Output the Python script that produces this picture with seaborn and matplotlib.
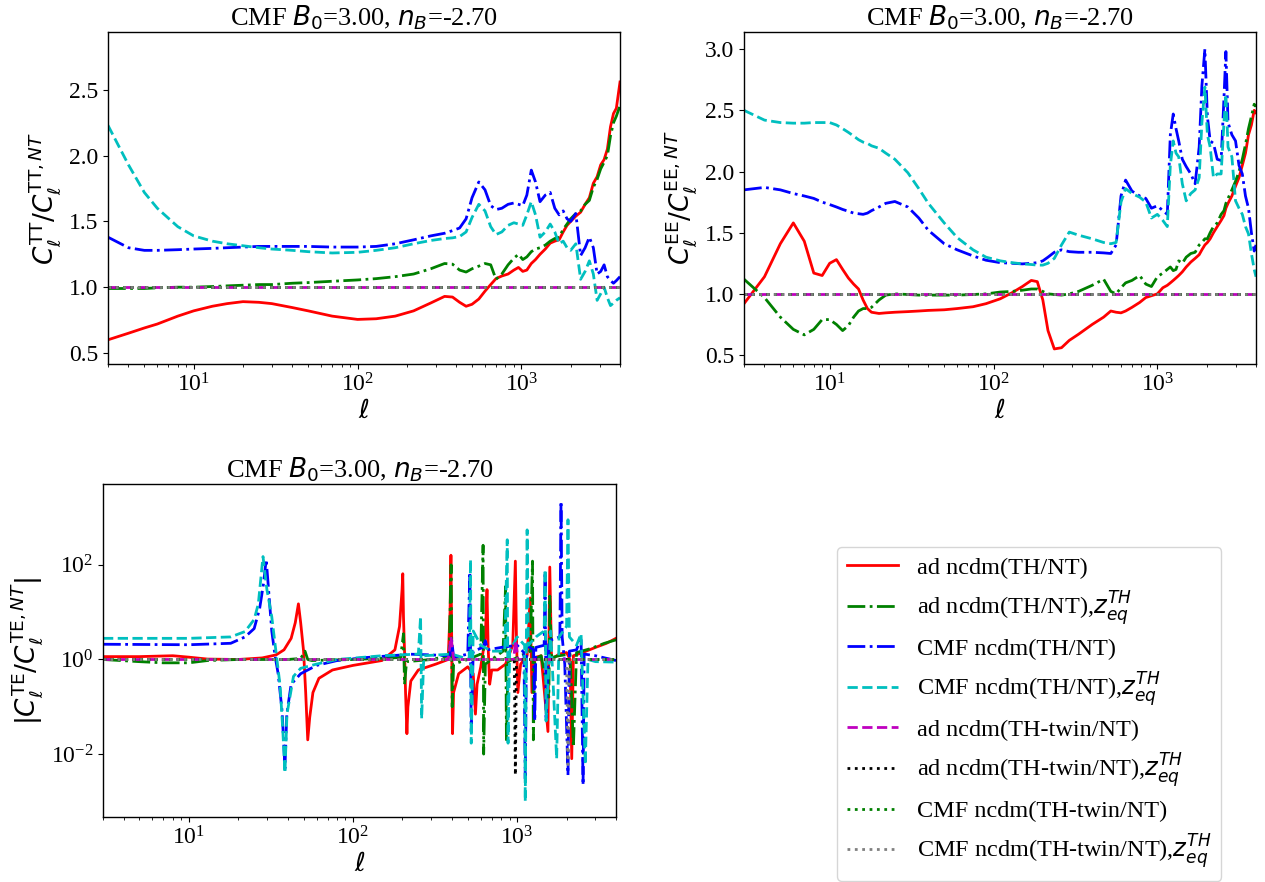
import matplotlib
matplotlib.use("Agg")
import matplotlib.pyplot as plt
from matplotlib.ticker import FixedLocator, NullLocator
import seaborn as sns

# ---------------- data ----------------
series_labels = ["ad ncdm(TH/NT)", r"ad ncdm(TH/NT),$z_{eq}^{TH}$",
                 "CMF ncdm(TH/NT)", r"CMF ncdm(TH/NT),$z_{eq}^{TH}$",
                 "ad ncdm(TH-twin/NT)", r"ad ncdm(TH-twin/NT),$z_{eq}^{TH}$",
                 "CMF ncdm(TH-twin/NT)", r"CMF ncdm(TH-twin/NT),$z_{eq}^{TH}$"]
panel_title = r"CMF $B_0$=3.00, $n_B$=-2.70"

# TT ratio
ell_tt = [3, 4, 5, 6, 8, 10, 13, 16, 20, 25, 30, 40, 50, 70, 100, 130, 170, 220, 280, 340,
          380, 420, 460, 500, 550, 600, 650, 700, 760, 830, 900, 960, 1020, 1080, 1150, 1220,
          1300, 1400, 1500, 1600, 1700, 1800, 1900, 2000, 2150, 2300, 2450, 2600, 2750, 2900,
          3050, 3200, 3350, 3500, 3650, 3800, 4000]
tt_ad = [0.60, 0.65, 0.69, 0.72, 0.78, 0.82, 0.855, 0.875, 0.89, 0.885, 0.875, 0.845, 0.82, 0.78,
         0.755, 0.76, 0.78, 0.82, 0.88, 0.93, 0.925, 0.885, 0.855, 0.87, 0.91, 0.97, 1.02, 1.065,
         1.085, 1.10, 1.13, 1.15, 1.12, 1.13, 1.18, 1.21, 1.25, 1.29, 1.335, 1.35, 1.36, 1.42,
         1.47, 1.50, 1.54, 1.57, 1.63, 1.68, 1.79, 1.84, 1.93, 1.97, 2.05, 2.22, 2.32, 2.36, 2.56]
tt_ad_zeq = [0.99, 0.99, 0.99, 0.995, 1.0, 1.0, 1.005, 1.01, 1.015, 1.02, 1.02, 1.03, 1.035, 1.045,
             1.055, 1.065, 1.08, 1.10, 1.14, 1.18, 1.175, 1.13, 1.115, 1.14, 1.16, 1.18, 1.17, 1.06,
             1.10, 1.17, 1.22, 1.25, 1.21, 1.23, 1.27, 1.29, 1.30, 1.32, 1.35, 1.37, 1.38, 1.44,
             1.48, 1.52, 1.56, 1.58, 1.63, 1.66, 1.76, 1.82, 1.90, 1.95, 2.00, 2.15, 2.25, 2.30, 2.38]
tt_cmf = [1.38, 1.30, 1.28, 1.28, 1.285, 1.29, 1.295, 1.30, 1.305, 1.31, 1.31, 1.31, 1.31, 1.305,
          1.305, 1.31, 1.33, 1.36, 1.39, 1.41, 1.43, 1.45, 1.52, 1.68, 1.80, 1.74, 1.62, 1.59,
          1.60, 1.63, 1.64, 1.63, 1.62, 1.70, 1.89, 1.80, 1.65, 1.70, 1.72, 1.60, 1.55, 1.58,
          1.52, 1.50, 1.56, 1.24, 1.30, 1.38, 1.30, 1.10, 1.12, 1.17, 1.08, 1.05, 1.03, 1.05, 1.08]
tt_cmf_zeq = [2.23, 1.93, 1.72, 1.60, 1.46, 1.39, 1.35, 1.33, 1.315, 1.30, 1.29, 1.28, 1.27, 1.26,
              1.265, 1.28, 1.30, 1.33, 1.355, 1.37, 1.375, 1.385, 1.42, 1.53, 1.63, 1.58, 1.46, 1.40,
              1.42, 1.47, 1.49, 1.48, 1.47, 1.55, 1.65, 1.55, 1.38, 1.42, 1.48, 1.42, 1.33, 1.35,
              1.30, 1.28, 1.33, 1.06, 1.12, 1.20, 1.10, 0.90, 0.95, 1.00, 0.92, 0.86, 0.88, 0.90, 0.92]

# EE ratio
ell_ee = [3, 4, 5, 6, 7, 8, 9, 10, 11, 12, 13, 14, 15, 16, 17, 18, 20, 22, 25, 30, 35, 40, 50, 60,
          75, 90, 110, 130, 150, 170, 185, 200, 215, 235, 260, 290, 330, 400, 470, 520, 560, 600,
          640, 700, 780, 850, 920, 1000, 1080, 1150, 1200, 1250, 1300, 1350, 1420, 1500, 1600,
          1700, 1800, 1870, 1950, 2020, 2100, 2200, 2320, 2450, 2550, 2620, 2700, 2850, 3000,
          3150, 3300, 3450, 3600, 3750, 3900, 4000]
ee_ad = [0.92, 1.14, 1.41, 1.58, 1.43, 1.17, 1.15, 1.25, 1.28, 1.20, 1.13, 1.08, 1.04, 0.95, 0.88,
         0.85, 0.84, 0.845, 0.85, 0.855, 0.86, 0.865, 0.87, 0.88, 0.895, 0.92, 0.96, 1.01, 1.06,
         1.11, 1.10, 0.95, 0.70, 0.55, 0.56, 0.62, 0.67, 0.75, 0.81, 0.86, 0.85, 0.845, 0.86, 0.89,
         0.93, 0.97, 0.985, 1.0, 1.05, 1.07, 1.09, 1.11, 1.13, 1.15, 1.18, 1.22, 1.26, 1.29, 1.32,
         1.36, 1.40, 1.42, 1.45, 1.50, 1.55, 1.60, 1.64, 1.70, 1.74, 1.80, 1.88, 1.95, 2.05, 2.15,
         2.30, 2.38, 2.50, 2.48]
ee_ad_zeq = [1.12, 0.97, 0.81, 0.71, 0.665, 0.71, 0.79, 0.79, 0.75, 0.70, 0.74, 0.81, 0.86, 0.88,
             0.88, 0.89, 0.95, 0.99, 1.0, 0.995, 0.99, 0.99, 0.99, 0.99, 0.995, 1.0, 1.015, 1.02,
             1.03, 1.04, 1.04, 1.02, 1.0, 0.995, 0.99, 1.0, 1.02, 1.07, 1.12, 1.02, 1.0, 1.05, 1.09,
             1.11, 1.15, 1.08, 1.06, 1.14, 1.17, 1.20, 1.22, 1.19, 1.20, 1.27, 1.25, 1.30, 1.33,
             1.34, 1.40, 1.42, 1.45, 1.45, 1.50, 1.55, 1.58, 1.65, 1.68, 1.74, 1.78, 1.85, 1.92,
             2.00, 2.10, 2.22, 2.35, 2.45, 2.55, 2.53]
ee_cmf = [1.85, 1.87, 1.85, 1.82, 1.80, 1.78, 1.75, 1.73, 1.71, 1.69, 1.675, 1.66, 1.655, 1.65,
          1.66, 1.68, 1.71, 1.74, 1.755, 1.71, 1.62, 1.52, 1.41, 1.36, 1.31, 1.275, 1.255, 1.25,
          1.245, 1.25, 1.255, 1.27, 1.30, 1.34, 1.36, 1.345, 1.34, 1.34, 1.335, 1.33, 1.40, 1.80,
          1.93, 1.84, 1.80, 1.78, 1.70, 1.72, 1.68, 1.65, 2.30, 2.47, 2.35, 2.25, 2.10, 2.04, 1.98,
          1.90, 2.20, 2.70, 3.00, 2.45, 2.25, 2.23, 2.10, 2.09, 2.60, 2.98, 2.40, 2.30, 2.25, 2.05,
          1.98, 1.80, 1.70, 1.50, 1.35, 1.40]
ee_cmf_zeq = [2.50, 2.42, 2.40, 2.395, 2.395, 2.40, 2.40, 2.40, 2.38, 2.35, 2.32, 2.29, 2.26, 2.24,
              2.23, 2.21, 2.19, 2.15, 2.10, 1.99, 1.86, 1.74, 1.58, 1.46, 1.36, 1.30, 1.27, 1.255,
              1.245, 1.24, 1.235, 1.235, 1.25, 1.29, 1.40, 1.505, 1.48, 1.45, 1.42, 1.41, 1.42, 1.75,
              1.86, 1.82, 1.79, 1.75, 1.62, 1.65, 1.60, 1.55, 2.05, 2.25, 2.15, 2.12, 1.90, 1.76,
              1.82, 1.85, 1.95, 2.40, 2.69, 2.30, 2.20, 1.95, 1.98, 1.98, 2.40, 2.63, 2.20, 2.12,
              1.76, 1.70, 1.65, 1.55, 1.49, 1.33, 1.20, 1.14]

# twin ratios (unity) for TT / EE
ell_flat = [3, 4000]
flat_unity = [1.0, 1.0]

# TE |ratio|
te_ell_ad = [3, 5, 8, 10, 13, 20, 28, 34, 38, 42, 44.5, 46.5, 48, 50, 51.5, 53, 54.5, 57, 62, 75,
             100, 150, 180, 192, 199, 201, 203, 206, 209, 213, 216, 225, 250, 320, 380, 390, 395,
             398, 401, 404, 410, 440, 500, 540, 557, 570, 600, 640, 655, 665, 680, 700, 760, 850,
             940, 975, 990, 1010, 1050, 1150, 1200, 1230, 1280, 1400, 1540, 1580, 1620, 1800,
             2000, 2100, 2150, 2200, 2500, 3000, 3500, 4000]
te_ad = [1.15, 1.15, 1.2, 1.12, 1.02, 1.0, 1.08, 1.25, 1.6, 2.8, 6, 15, 6, 1.5, 0.2, 0.02, 0.06,
         0.2, 0.4, 0.6, 0.75, 0.95, 1.6, 5, 30, 65, 8, 1.5, 0.2, 0.027, 0.1, 0.35, 0.6, 0.8, 1.0,
         10, 160, 10, 0.3, 0.027, 0.2, 0.5, 0.7, 0.5, 0.07, 0.3, 0.7, 3, 30, 2, 0.3, 0.6, 0.6, 0.8,
         2, 120, 3, 0.2, 0.8, 1.2, 20, 0.2, 1.1, 1.2, 0.03, 90, 1.0, 1.3, 1.4, 1.0, 0.008, 1.2,
         1.4, 1.8, 2.2, 2.8]
te_ell_ad_zeq = [3, 5, 7, 10, 13, 20, 40, 48, 51, 53, 56, 100, 195, 203, 206, 212, 300, 385, 396,
                 402, 410, 500, 600, 620, 625, 640, 700, 820, 850, 860, 880, 1000, 1200, 1240, 1255,
                 1280, 1400, 1560, 1580, 1620, 1800, 2100, 2200, 2300, 2800, 3400, 4000]
te_ad_zeq = [1.0, 0.9, 0.85, 0.85, 0.95, 1.0, 1.0, 1.05, 1.5, 1.0, 0.95, 1.0, 1.1, 3.5, 0.3, 0.9,
             1.0, 1.2, 100, 0.1, 0.8, 1.0, 1.3, 260, 0.01, 0.8, 1.0, 1.5, 35, 0.02, 0.9, 1.1, 1.5,
             120, 0.02, 1.0, 1.2, 0.16, 22, 1.1, 1.2, 1.3, 0.014, 1.4, 1.7, 2.2, 2.6]
te_ell_cmf = [3, 10, 18, 22, 25, 27, 28.5, 29.6, 30.6, 32, 33.5, 35, 37, 38.5, 39.5, 42, 48, 60,
              80, 120, 200, 215, 300, 390, 400, 410, 500, 515, 525, 540, 620, 640, 660, 800, 1000,
              1100, 1120, 1140, 1260, 1280, 1300, 1460, 1480, 1500, 1560, 1820, 1850, 1880, 1950,
              2040, 2080, 2300, 2450, 2520, 2560, 3000, 4000]
te_cmf = [2.1, 2.05, 2.2, 3.0, 4.5, 12, 40, 130, 30, 4, 1.2, 0.5, 0.08, 0.005, 0.07, 0.3, 0.5,
          0.75, 0.95, 1.1, 1.25, 1.3, 1.25, 1.2, 2.5, 1.1, 1.3, 70, 0.03, 1.5, 1.8, 2.5, 1.6, 1.8,
          2.0, 1.4, 0.003, 2.0, 1.6, 0.05, 1.8, 2, 70, 0.05, 2.5, 3, 2200, 3, 0.8, 0.0036, 1.5,
          1.6, 3, 0.0022, 1.3, 1.2, 0.95]
te_ell_cmf_zeq = [3, 10, 18, 22, 25, 26.5, 28.3, 29.9, 32, 34.4, 36, 37.4, 38.5, 39.6, 43.4, 48,
                  60, 80, 150, 250, 258, 262, 270, 400, 510, 520, 525, 540, 600, 700, 840, 870,
                  880, 900, 1000, 1110, 1120, 1150, 1170, 1300, 1460, 1480, 1500, 1600, 1740,
                  1800, 2000, 2040, 2080, 2300, 2450, 2600, 2700, 3000, 4000]
te_cmf_zeq = [2.8, 2.8, 3.0, 3.9, 7, 15, 150, 30, 8, 1.0, 0.27, 0.03, 0.004, 0.07, 0.44, 0.65,
              0.8, 1.0, 1.2, 1.3, 8, 0.056, 1.2, 1.3, 1.0, 130, 0.017, 4, 2, 1.5, 1.5, 340, 0.017,
              1.5, 3, 2, 0.001, 550, 2, 3, 4, 80, 0.05, 4, 0.008, 3, 5, 900, 3, 2, 3.5, 0.006, 1.0,
              0.9, 0.88]
te_ell_twin_ad = [3, 380, 395, 410, 950, 980, 1010, 4000]
te_twin_ad = [1.0, 1.0, 3.0, 1.0, 1.0, 2.5, 1.0, 1.0]
te_ell_twin_ad_zeq = [3, 960, 975, 990, 4000]
te_twin_ad_zeq = [1.0, 1.0, 0.0036, 1.0, 1.0]
te_ell_twin_cmf = [3, 4000]
te_twin_cmf = [1.0, 1.0]
te_ell_twin_cmf_zeq = [3, 2000, 2040, 2080, 4000]
te_twin_cmf_zeq = [1.0, 1.0, 0.006, 1.0, 1.0]

# ---------------- style ----------------
line_colors = ['r', 'g', 'b', 'c', 'm', 'k', 'g', 'gray']
line_styles = ['-', '-.', '-.', '--', '--', ':', ':', ':']
LW = 2.0
TITLE_FS = 19
LABEL_FS = 19
TICK_FS = 17
LEGEND_FS = 17.5

plt.rcParams.update({
    "font.family": "serif",
    "font.serif": ["Liberation Serif", "DejaVu Serif"],
    "mathtext.fontset": "dejavusans",
    "font.size": 16,
    "axes.linewidth": 1.0,
})

W, H = 1265, 882
fig = plt.figure(figsize=(W / 100, H / 100), dpi=100)


def box(l, r, t, b):
    return [l / W, 1 - b / H, (r - l) / W, (b - t) / H]


ax_tt = fig.add_axes(box(108, 620, 32, 364))
ax_ee = fig.add_axes(box(744, 1256, 32, 364))
ax_te = fig.add_axes(box(103, 616, 484, 817))


def draw(ax, xs, ys, i, label=None):
    sns.lineplot(x=xs, y=ys, ax=ax, color=line_colors[i], linestyle=line_styles[i], lw=LW,
                 estimator=None, sort=False, label=label)


tt_sets = [(ell_tt, tt_ad), (ell_tt, tt_ad_zeq), (ell_tt, tt_cmf), (ell_tt, tt_cmf_zeq)] + \
          [(ell_flat, flat_unity)] * 4
ee_sets = [(ell_ee, ee_ad), (ell_ee, ee_ad_zeq), (ell_ee, ee_cmf), (ell_ee, ee_cmf_zeq)] + \
          [(ell_flat, flat_unity)] * 4
te_sets = [(te_ell_ad, te_ad), (te_ell_ad_zeq, te_ad_zeq), (te_ell_cmf, te_cmf),
           (te_ell_cmf_zeq, te_cmf_zeq), (te_ell_twin_ad, te_twin_ad),
           (te_ell_twin_ad_zeq, te_twin_ad_zeq), (te_ell_twin_cmf, te_twin_cmf),
           (te_ell_twin_cmf_zeq, te_twin_cmf_zeq)]

for i, (xs, ys) in enumerate(tt_sets):
    draw(ax_tt, xs, ys, i, label=series_labels[i])
for i, (xs, ys) in enumerate(ee_sets):
    draw(ax_ee, xs, ys, i)
for i, (xs, ys) in enumerate(te_sets):
    draw(ax_te, xs, ys, i)

handles, labs = ax_tt.get_legend_handles_labels()
for ax in (ax_tt, ax_ee, ax_te):
    if ax.get_legend() is not None:
        ax.get_legend().remove()
    ax.set_xscale('log')
    ax.set_xlim(3, 4000)
    ax.set_title(panel_title, fontsize=TITLE_FS, pad=5)
    ax.set_xlabel(r'$\ell$', fontsize=LABEL_FS, labelpad=2)
    ax.tick_params(labelsize=TICK_FS)

ax_tt.set_ylim(0.416, 2.94)
ax_tt.set_ylabel(r'$C_\ell^{\rm TT}/C_\ell^{{\rm TT},NT}$', fontsize=LABEL_FS)
ax_ee.set_ylim(0.427, 3.14)
ax_ee.set_ylabel(r'$C_\ell^{\rm EE}/C_\ell^{{\rm EE},NT}$', fontsize=LABEL_FS)
ax_te.set_yscale('log')
ax_te.set_ylim(10 ** -3.33, 10 ** 3.71)
ax_te.yaxis.set_major_locator(FixedLocator([1e-2, 1.0, 1e2]))
ax_te.yaxis.set_minor_locator(NullLocator())
ax_te.set_ylabel(r'$|C_\ell^{\rm TE}/C_\ell^{{\rm TE},NT}|$', fontsize=LABEL_FS)

fig.legend(handles, labs, loc='upper left', bbox_to_anchor=(837 / W, 1 - 547 / H),
           borderaxespad=0, fontsize=LEGEND_FS, handlelength=2.1, labelspacing=0.42)

fig.savefig("out.png", dpi=100)
